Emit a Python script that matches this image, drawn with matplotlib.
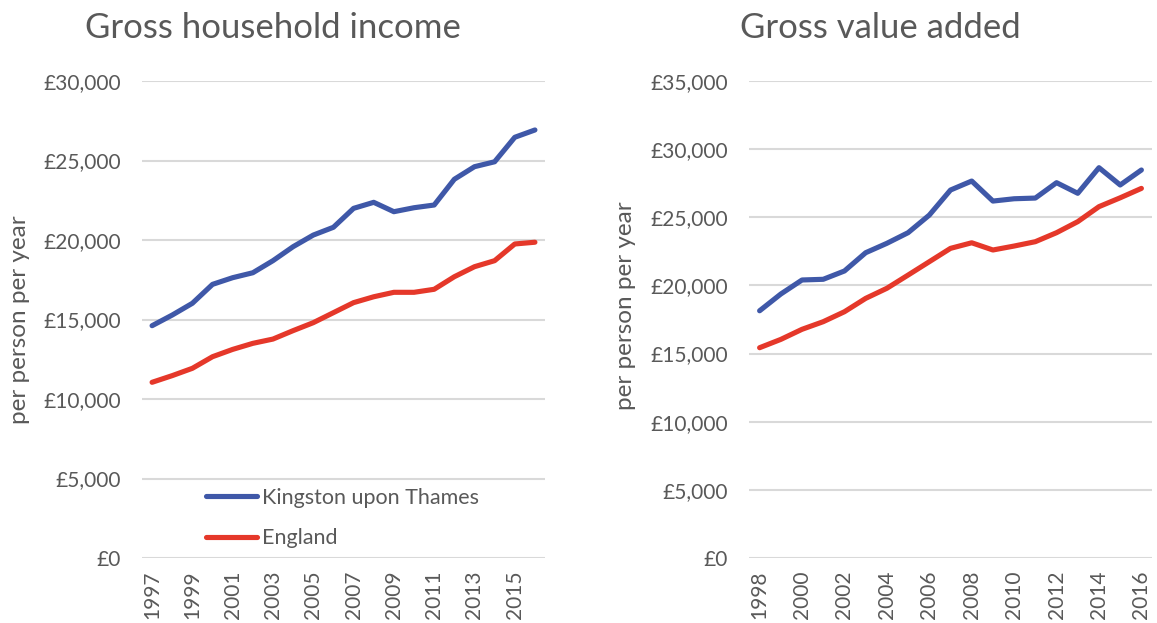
import matplotlib.pyplot as plt
from matplotlib.ticker import FuncFormatter

plt.rcParams['font.family'] = ['Lato', 'DejaVu Sans']

# gross household income, 1997-2016
ghi_years = list(range(1997, 2017))
ghi_kingston = [14610, 15280, 16020, 17210, 17630, 17940, 18700, 19580, 20310, 20800,
                21990, 22370, 21780, 22030, 22200, 23820, 24610, 24920, 26460, 26920]
ghi_england = [11050, 11470, 11930, 12660, 13120, 13500, 13770, 14300, 14800, 15430,
               16060, 16430, 16710, 16710, 16900, 17690, 18320, 18700, 19750, 19860]

# gross value added, 1998-2016
gva_years = list(range(1998, 2017))
gva_kingston = [18140, 19370, 20400, 20450, 21060, 22400, 23090, 23870, 25160, 27000,
                27660, 26190, 26360, 26410, 27540, 26760, 28640, 27370, 28470]
gva_england = [15430, 16040, 16780, 17340, 18070, 19050, 19790, 20760, 21740, 22720,
               23130, 22600, 22890, 23210, 23870, 24680, 25780, 26430, 27120]

BLUE = '#3F58A8'
RED = '#E5382A'
GREY = '#595959'

fig = plt.figure(figsize=(11.57, 6.23), dpi=100)
ax1 = fig.add_axes([142 / 1157, 1 - 558 / 623, 403 / 1157, 477 / 623])
ax2 = fig.add_axes([749 / 1157, 1 - 558 / 623, 403 / 1157, 477 / 623])

money = FuncFormatter(lambda v, p: '£{:,.0f}'.format(v))


def style(ax, years, ymax, step):
    ax.set_xlim(years[0] - 0.5, years[-1] + 0.5)
    ax.set_ylim(0, ymax)
    ax.set_yticks(range(0, ymax + 1, step))
    ax.yaxis.set_major_formatter(money)
    ax.set_xticks(years[::2])
    ax.set_xticklabels([str(y) for y in years[::2]], rotation=90)
    ax.grid(axis='y', color='#D9D9D9', linewidth=1.5)
    ax.set_axisbelow(True)
    for s in ax.spines.values():
        s.set_visible(False)
    ax.tick_params(length=0, labelsize=15, colors=GREY)
    ax.tick_params(axis='y', pad=15)
    ax.tick_params(axis='x', pad=9)
    ax.set_ylabel('per person per year', fontsize=17.5, color=GREY)


l1, = ax1.plot(ghi_years, ghi_kingston, color=BLUE, lw=3.7, solid_capstyle='round',
               label='Kingston upon Thames')
l2, = ax1.plot(ghi_years, ghi_england, color=RED, lw=3.7, solid_capstyle='round',
               label='England')
style(ax1, ghi_years, 30000, 5000)
ax1.yaxis.set_label_coords(-0.278, 0.5)
ax1.legend(loc='lower left', bbox_to_anchor=(0.11, -0.02), frameon=False, fontsize=15.5,
           labelcolor=GREY, handlelength=2.4, handletextpad=0.2, labelspacing=0.95)

ax2.plot(gva_years, gva_kingston, color=BLUE, lw=3.7, solid_capstyle='round')
ax2.plot(gva_years, gva_england, color=RED, lw=3.7, solid_capstyle='round')
style(ax2, gva_years, 35000, 5000)
ax2.yaxis.set_label_coords(-0.28, 0.53)

fig.text(85 / 1157, 1 - 28 / 623, 'Gross household income', fontsize=25, color=GREY,
         ha='left', va='center')
fig.text(740 / 1157, 1 - 28 / 623, 'Gross value added', fontsize=25, color=GREY,
         ha='left', va='center')

fig.savefig('out.png', dpi=100)
